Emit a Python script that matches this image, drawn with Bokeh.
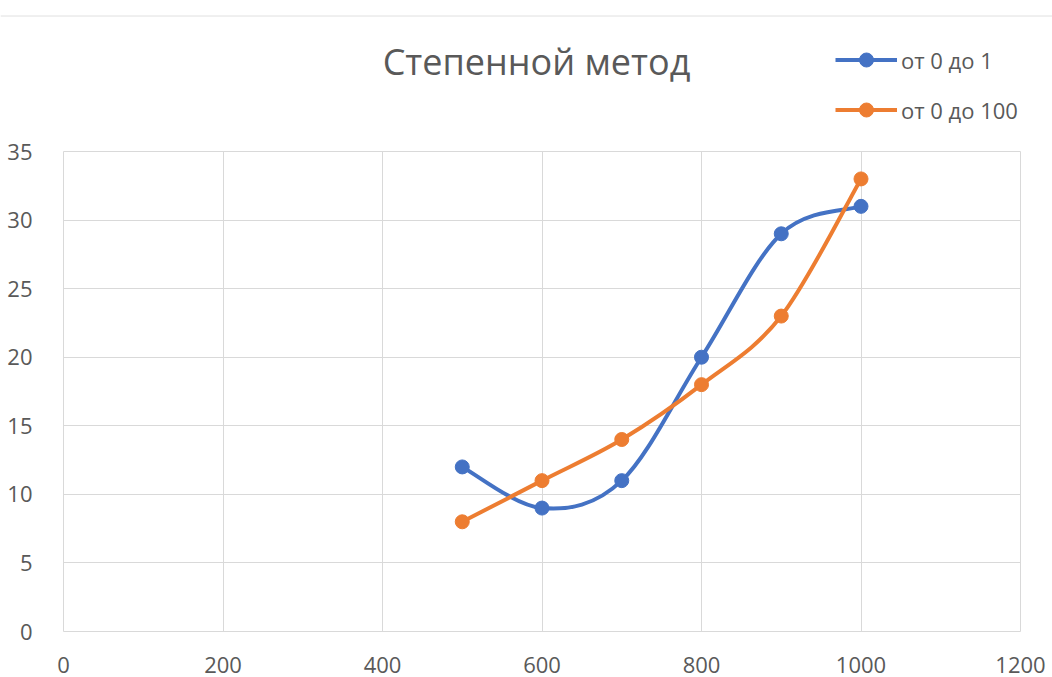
from bokeh.plotting import figure
from bokeh.models import Range1d, FixedTicker, Legend, LegendItem, ColumnDataSource
from bokeh.core.properties import value
from bokeh.embed import file_html
from bokeh.resources import INLINE

# Series values
x_values = [500, 600, 700, 800, 900, 1000]
y_unit = [12, 9, 11, 20, 29, 31]        # от 0 до 1
y_hundred = [8, 11, 14, 18, 23, 33]     # от 0 до 100

series_names = ["от 0 до 1", "от 0 до 100"]
series_colors = ["#4472C4", "#ED7D31"]

x_ticks = [0, 200, 400, 600, 800, 1000, 1200]
y_ticks = [0, 5, 10, 15, 20, 25, 30, 35]

title_text = "Степенной метод"
FONT = "Open Sans"
GREY = "#595959"
GRID = "#d9d9d9"

W = 1052
HEAD_H = 135
MAIN_H = 542


def smooth_segments(xs, ys, k=1.0 / 6.0):
    """Cubic Bezier control points for a Catmull-Rom style smoothed line."""
    n = len(xs)
    px = [xs[0]] + list(xs) + [xs[-1]]
    py = [ys[0]] + list(ys) + [ys[-1]]
    seg = dict(x0=[], y0=[], x1=[], y1=[], cx0=[], cy0=[], cx1=[], cy1=[])
    for i in range(1, n):
        seg["x0"].append(px[i]); seg["y0"].append(py[i])
        seg["x1"].append(px[i + 1]); seg["y1"].append(py[i + 1])
        seg["cx0"].append(px[i] + (px[i + 1] - px[i - 1]) * k)
        seg["cy0"].append(py[i] + (py[i + 1] - py[i - 1]) * k)
        seg["cx1"].append(px[i + 1] - (px[i + 2] - px[i]) * k)
        seg["cy1"].append(py[i + 1] - (py[i + 2] - py[i]) * k)
    return seg


# Header strip: rule, title and legend (pixel coordinates, y downwards)
head = figure(width=W, height=HEAD_H, output_backend="svg", toolbar_location=None,
              x_range=Range1d(0, W), y_range=Range1d(HEAD_H, 0),
              min_border=0, outline_line_color=None,
              background_fill_color="white", border_fill_color="white")
head.axis.visible = False
head.grid.visible = False

head.segment(x0=[0], y0=[15.5], x1=[W], y1=[15.5], line_color="#e0e0e0", line_width=1)
head.text(x=[536], y=[61], text=[title_text], text_align="center",
          text_baseline="alphabetic", text_font=value(FONT),
          text_font_size="36px", text_color=GREY)

# legend keys: styled renderers without any visible point of their own
nan = float("nan")
items = []
for name, color in zip(series_names, series_colors):
    key_src = ColumnDataSource(dict(x=[nan], y=[nan]))
    key_line = head.line("x", "y", source=key_src, line_color=color, line_width=4)
    key_dot = head.scatter("x", "y", source=key_src, size=14,
                           fill_color=color, line_color=color)
    items.append(LegendItem(label=name, renderers=[key_line, key_dot]))

legend = Legend(items=items, location=(835, 8), orientation="vertical",
                glyph_width=62, glyph_height=35, label_height=35,
                spacing=15, padding=0, margin=0, label_standoff=4,
                border_line_color=None, background_fill_alpha=0,
                label_text_font=FONT, label_text_font_size="22px",
                label_text_color=GREY)
head.add_layout(legend, "center")

# Main chart
p = figure(width=W, height=MAIN_H, output_backend="svg", toolbar_location=None,
           x_range=Range1d(0, 1200), y_range=Range1d(0, 35),
           min_border_left=63, min_border_right=32,
           min_border_top=16, min_border_bottom=46,
           background_fill_color="white", border_fill_color="white")

p.outline_line_color = GRID
p.xgrid.ticker = FixedTicker(ticks=x_ticks)
p.ygrid.ticker = FixedTicker(ticks=y_ticks)
for g in (p.xgrid, p.ygrid):
    g.grid_line_color = GRID
    g.grid_line_width = 1

for ax, ticks in ((p.xaxis, x_ticks), (p.yaxis, y_ticks)):
    ax.ticker = FixedTicker(ticks=ticks)
    ax.axis_line_color = None
    ax.major_tick_line_color = None
    ax.minor_tick_line_color = None
    ax.major_label_text_font = FONT
    ax.major_label_text_font_size = "22px"
    ax.major_label_text_color = GREY
p.xaxis.major_label_standoff = 19
p.yaxis.major_label_standoff = 25

for ys, color in zip((y_unit, y_hundred), series_colors):
    seg = smooth_segments(x_values, ys)
    p.bezier(source=ColumnDataSource(seg), x0="x0", y0="y0", x1="x1", y1="y1",
             cx0="cx0", cy0="cy0", cx1="cx1", cy1="cy1",
             line_color=color, line_width=4, line_cap="round")
    p.scatter(x_values, ys, size=14, fill_color=color, line_color=color)

# two independent roots, stacked on the page
open("out.html", "w").write(file_html([head, p], INLINE))
